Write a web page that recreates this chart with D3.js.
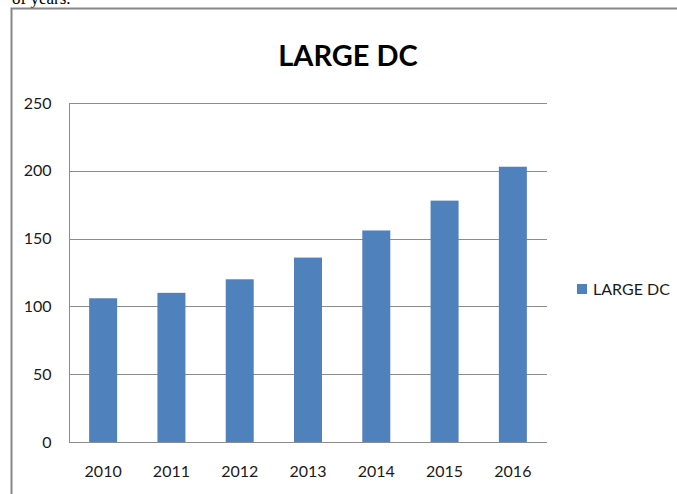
<!DOCTYPE html>
<html>
<head>
<meta charset="utf-8">
<script src="https://cdn.jsdelivr.net/npm/d3@7"></script>
<style>
  html, body { margin: 0; padding: 0; background: #fff; }
  svg { display: block; }
</style>
</head>
<body>
<svg id="chart" width="677" height="494"></svg>
<script>
// Large data centre count per year
const years = ["2010", "2011", "2012", "2013", "2014", "2015", "2016"];
const largeDC = [106, 110, 120, 136, 156, 178, 203];
const yTicks = [0, 50, 100, 150, 200, 250];
const seriesName = "LARGE DC";

const svg = d3.select("#chart");
const font = "Lato, 'Open Sans', sans-serif";

// trailing line of the surrounding document text
svg.append("text")
  .attr("x", 12).attr("y", 4)
  .attr("font-family", "'Liberation Serif', serif")
  .attr("font-size", 17)
  .attr("fill", "#000")
  .text("of years.");

// chart frame
svg.append("rect")
  .attr("x", 11.5).attr("y", 8.5)
  .attr("width", 700).attr("height", 520)
  .attr("fill", "none")
  .attr("stroke", "#888")
  .attr("stroke-width", 2);

const plot = { left: 69, right: 547, top: 103, bottom: 442 };

const x = d3.scaleBand().domain(years)
  .range([plot.left, plot.right])
  .paddingInner(0.59).paddingOuter(0.295);

const y = d3.scaleLinear().domain([0, 250]).range([plot.bottom, plot.top]);

// gridlines
svg.append("g")
  .selectAll("line")
  .data(yTicks)
  .join("line")
  .attr("x1", plot.left).attr("x2", plot.right)
  .attr("y1", d => Math.round(y(d)) + 0.5)
  .attr("y2", d => Math.round(y(d)) + 0.5)
  .attr("stroke", "#8c8c8c")
  .attr("stroke-width", 1);

// bars
svg.append("g")
  .selectAll("rect")
  .data(years.map((yr, i) => ({ yr, v: largeDC[i] })))
  .join("rect")
  .attr("x", d => x(d.yr))
  .attr("width", x.bandwidth())
  .attr("y", d => y(d.v))
  .attr("height", d => y(0) - y(d.v))
  .attr("fill", "#4f81bd");

// y axis
const yAxis = svg.append("g")
  .attr("transform", `translate(${plot.left + 0.5},0)`)
  .call(d3.axisLeft(y).tickValues(yTicks).tickSize(0).tickPadding(18));
yAxis.select(".domain").attr("stroke", "#8c8c8c").attr("d", `M0,${plot.top}V${plot.bottom}`);
yAxis.selectAll("text")
  .attr("font-family", font).attr("font-size", 16).attr("fill", "#1a1a1a");

// x axis
const xAxis = svg.append("g")
  .attr("transform", `translate(0,${Math.round(y(0)) + 0.5})`)
  .call(d3.axisBottom(x).tickSize(0).tickPadding(23));
xAxis.select(".domain").remove();
xAxis.selectAll("text")
  .attr("font-family", font).attr("font-size", 16).attr("fill", "#1a1a1a");

// title
svg.append("text")
  .attr("x", 348).attr("y", 66)
  .attr("text-anchor", "middle")
  .attr("font-family", font)
  .attr("font-weight", "bold")
  .attr("font-size", 29)
  .attr("fill", "#000")
  .text(seriesName);

// legend
const legend = svg.append("g").attr("transform", "translate(577,284)");
legend.append("rect")
  .attr("width", 10).attr("height", 10)
  .attr("fill", "#4f81bd");
legend.append("text")
  .attr("x", 16).attr("y", 11)
  .attr("font-family", font).attr("font-size", 16).attr("fill", "#1a1a1a")
  .text(seriesName);
</script>
</body>
</html>
